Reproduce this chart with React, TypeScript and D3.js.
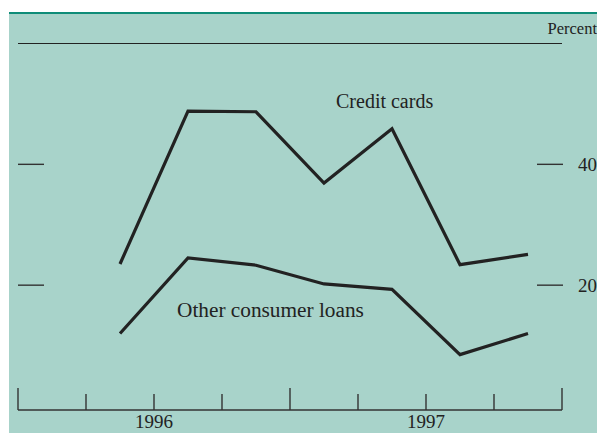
import React from 'react';
import * as d3 from 'd3';

const quarters = ['96Q2', '96Q3', '96Q4', '97Q1', '97Q2', '97Q3', '97Q4'];
const creditCards = [23.5, 48.8, 48.7, 36.9, 45.9, 23.4, 25.1];
const otherLoans = [12.0, 24.5, 23.3, 20.2, 19.3, 8.5, 12.0];
const yTicks = [20, 40];
const years = ['1996', '1997'];

const W = 597;
const H = 433;

function App() {
	// quarter boundaries: 0..8 over two years
	const x = d3.scaleLinear().domain([0, 8]).range([18, 562]);
	const y = d3.scaleLinear().domain([0, 60]).range([406, 43.5]);
	const axisY = 410;

	const line = d3.line<number>()
		.x((d, i) => x(i + 1.5))
		.y(d => y(d));

	const font = '"Liberation Serif", "DejaVu Serif", serif';
	const ink = '#222';

	return (
		<svg width={W} height={H} style={{ position: 'absolute', left: 0, top: 0 }} fontFamily={font}>
			<rect x={9} y={12} width={W - 9} height={H - 12} fill="#a8d3ca" />
			<rect x={9} y={12} width={W - 9} height={2} fill="#0e8c78" />

			<text x={597} y={34} textAnchor="end" fontSize={16.5} fill={ink}>Percent</text>
			<line x1={18} x2={562} y1={y(60)} y2={y(60)} stroke={ink} strokeWidth={1.2} />

			{yTicks.map(t => (
				<g key={t}>
					<line x1={18} x2={44} y1={y(t)} y2={y(t)} stroke="#333" strokeWidth={1.4} />
					<line x1={537} x2={563} y1={y(t)} y2={y(t)} stroke="#333" strokeWidth={1.4} />
					<text x={597} y={y(t) + 6.5} textAnchor="end" fontSize={19} fill={ink}>{t}</text>
				</g>
			))}

			{/* time axis */}
			<line x1={x(0)} x2={x(8)} y1={axisY} y2={axisY} stroke="#333" strokeWidth={1.4} />
			{d3.range(9).map(i => (
				<line key={i} x1={x(i)} x2={x(i)} y1={i % 4 === 0 ? 388 : 394} y2={axisY} stroke="#333" strokeWidth={1.4} />
			))}
			{years.map((yr, i) => (
				<text key={yr} x={x(i * 4 + 2)} y={428} textAnchor="middle" fontSize={19} fill={ink}>{yr}</text>
			))}

			<path d={line(creditCards) || ''} fill="none" stroke={ink} strokeWidth={3.2} strokeLinejoin="miter" />
			<path d={line(otherLoans) || ''} fill="none" stroke={ink} strokeWidth={3.2} strokeLinejoin="miter" />

			<text x={336} y={108} fontSize={20} fill={ink}>Credit cards</text>
			<text x={177} y={317} fontSize={21.3} fill={ink}>Other consumer loans</text>
		</svg>
	);
}

export default App;
